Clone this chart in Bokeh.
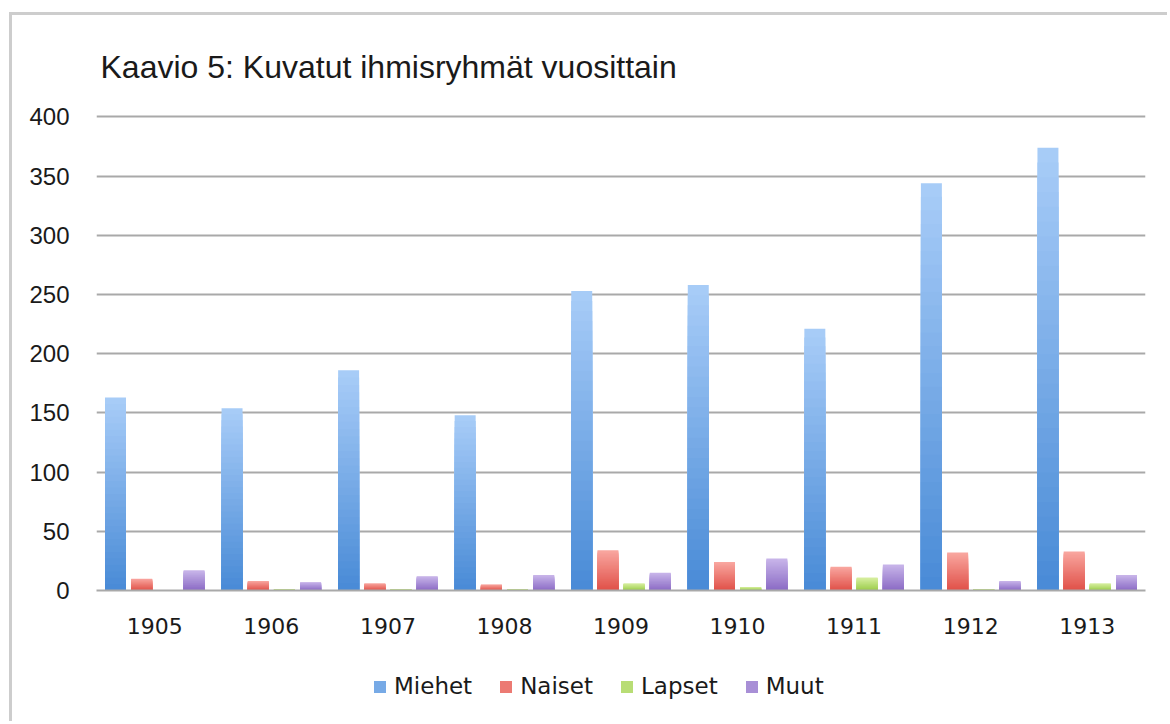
from bokeh.plotting import figure
from bokeh.models import ColumnDataSource, FactorRange, Legend, LegendItem, Range1d
from bokeh.layouts import column
from bokeh.transform import dodge
from bokeh.embed import file_html
from bokeh.resources import INLINE

years = ["1905", "1906", "1907", "1908", "1909", "1910", "1911", "1912", "1913"]
series_names = ["Miehet", "Naiset", "Lapset", "Muut"]
miehet = [163, 154, 186, 148, 253, 258, 221, 344, 374]
naiset = [10, 8, 6, 5, 34, 24, 20, 32, 33]
lapset = [0, 1, 1, 1, 6, 3, 11, 1, 6]
muut = [17, 7, 12, 13, 15, 27, 22, 8, 13]
y_ticks = [0, 50, 100, 150, 200, 250, 300, 350, 400]

series_values = [miehet, naiset, lapset, muut]
top_colors = [(169, 205, 248), (249, 167, 160), (217, 240, 163), (201, 182, 234)]
bottom_colors = [(72, 138, 214), (224, 80, 72), (154, 204, 74), (138, 106, 196)]
offsets = [-0.337, -0.112, 0.112, 0.337]
bar_w = 0.18
N = 30
FRAME = "3px solid #cdcdcd"

p = figure(
    x_range=FactorRange(factors=years, range_padding=0),
    y_range=Range1d(0, 402),
    width=1158, height=635,
    output_backend="svg", toolbar_location=None,
    min_border_left=84, min_border_top=99, min_border_right=25, min_border_bottom=60,
    title="Kaavio 5: Kuvatut ihmisryhmät vuosittain",
)
p.styles = {"border-left": FRAME, "border-top": FRAME, "margin-left": "9px", "margin-top": "12px"}
p.outline_line_color = None
p.background_fill_color = "white"
p.border_fill_color = "white"

p.title.text_font = "Liberation Sans"
p.title.text_font_size = "32px"
p.title.text_font_style = "normal"
p.title.text_color = "#1a1a1a"
p.title.align = "left"
p.title.vertical_align = "top"
p.title.offset = 4
p.title.standoff = 56

def hexc(c):
    return "#%02x%02x%02x" % tuple(int(round(v)) for v in c)

sources = []
renderers = []
for si, vals in enumerate(series_values):
    xs, bots, tops, cols = [], [], [], []
    for k in range(N - 1, -1, -1):
        t = (k + 0.5) / N
        c = tuple(bottom_colors[si][j] + (top_colors[si][j] - bottom_colors[si][j]) * t for j in range(3))
        for yi, yr in enumerate(years):
            xs.append(yr)
            bots.append(0)
            tops.append(vals[yi] * (k + 1) / N)
            cols.append(hexc(c))
    src = ColumnDataSource(dict(x=xs, bottom=bots, top=tops, color=cols))
    sources.append(src)
    r = p.vbar(x=dodge("x", offsets[si], range=p.x_range), bottom="bottom", top="top",
               width=bar_w, source=src, fill_color="color", line_color=None)
    renderers.append(r)

p.xgrid.grid_line_color = None
p.ygrid.grid_line_color = "#a9a9a9"
p.ygrid.grid_line_width = 2

p.yaxis.ticker = y_ticks
p.yaxis.axis_line_color = None
p.yaxis.major_tick_line_color = None
p.yaxis.minor_tick_line_color = None
p.yaxis.major_label_standoff = 21
p.yaxis.major_label_text_font = "Liberation Sans"
p.yaxis.major_label_text_font_size = "24px"
p.yaxis.major_label_text_color = "#1a1a1a"

p.xaxis.axis_line_color = "#a9a9a9"
p.xaxis.axis_line_width = 2
p.xaxis.major_tick_line_color = None
p.xaxis.minor_tick_line_color = None
p.xaxis.major_label_standoff = 21
p.xaxis.major_label_text_font = "DejaVu Sans"
p.xaxis.major_label_text_font_size = "22px"
p.xaxis.major_label_text_color = "#1a1a1a"

# legend strip below the chart
lf = figure(
    x_range=FactorRange(factors=years), y_range=Range1d(1000, 1001),
    width=1158, height=74, output_backend="svg", toolbar_location=None,
    x_axis_location=None, y_axis_location=None,
    min_border_left=0, min_border_right=0, min_border_top=0, min_border_bottom=0,
)
lf.styles = {"border-left": FRAME, "margin-left": "9px"}
lf.outline_line_color = None
lf.xgrid.grid_line_color = None
lf.ygrid.grid_line_color = None
lrs = []
for si in range(4):
    r = lf.vbar(x=dodge("x", offsets[si], range=lf.x_range), bottom="bottom", top="top",
                width=bar_w, source=sources[si], fill_color="color", line_color=None)
    lrs.append(r)

items = [LegendItem(label=series_names[i], renderers=[lrs[i]], index=9 * (N // 2)) for i in range(4)]
legend = Legend(items=items, orientation="horizontal", location=(276, 22),
                border_line_color=None, background_fill_alpha=0,
                glyph_width=15, glyph_height=15, label_standoff=7, spacing=26,
                label_text_font="DejaVu Sans", label_text_font_size="23px",
                label_text_color="#1a1a1a", padding=0, margin=0)
lf.add_layout(legend, "center")

layout = column(p, lf, spacing=0)
open("out.html", "w").write(file_html(layout, INLINE))
